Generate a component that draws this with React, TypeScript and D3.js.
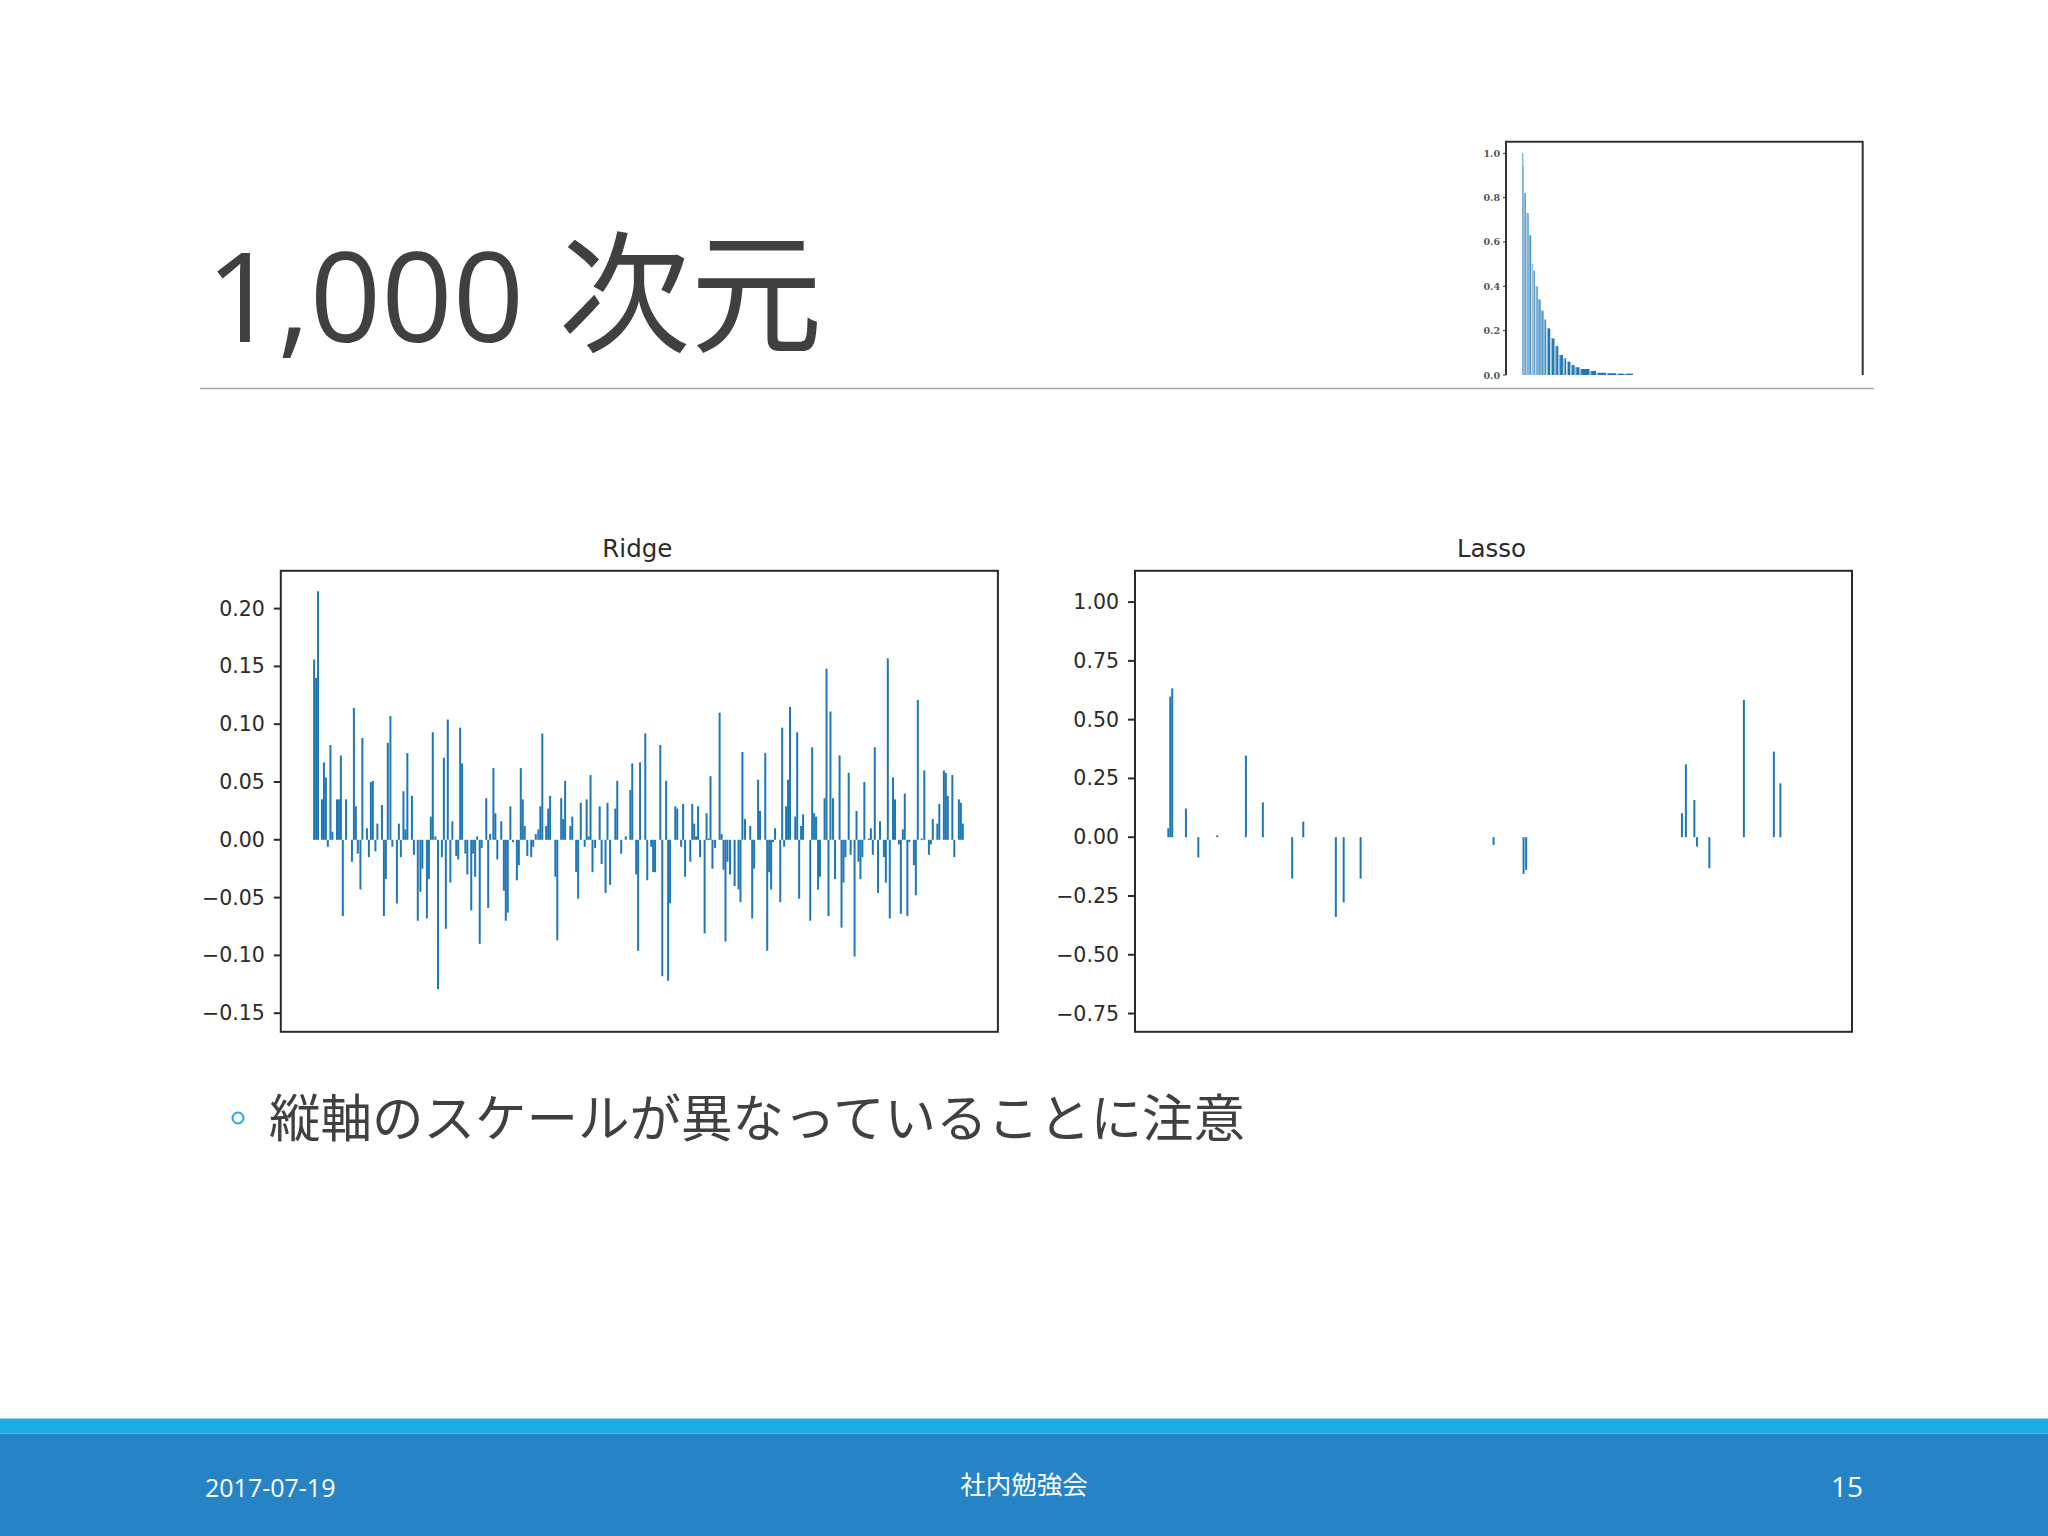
import React from "react";
import * as d3 from "d3";

// ---------- data ----------
// Ridge coefficients (feature index, value) as visible in the picture
const ridgeIndex = [
  0, 3, 6, 12, 15, 18, 21, 25, 28, 35, 38, 41, 44, 49, 58, 61, 64, 67, 71, 74, 81, 84, 87, 90, 94, 97, 104, 107, 110, 113, 117, 120, 127, 130, 133, 137, 140, 143, 150, 153,
  159, 163, 166, 173, 176, 179, 182, 186, 190, 196, 199, 202, 205, 209, 212, 218, 221, 224, 227, 232, 235, 241, 244, 247, 250, 254, 257, 264, 267, 270, 275, 278, 281, 287, 291, 294, 297, 301, 305, 311, 314, 317, 320, 323, 327,
  333, 336, 340, 344, 347, 350, 356, 359, 362, 370, 373, 379, 382, 385, 393, 396, 402, 405, 409, 415, 418, 421, 424, 427, 431, 438, 441, 447, 450, 454, 462, 465, 471, 478, 485, 488, 494, 497, 500,
  508, 511, 517, 520, 523, 531, 534, 540, 543, 546, 554, 557, 563, 566, 569, 577, 580, 583, 586, 589, 592, 599, 602, 605, 608, 611, 615, 622, 625, 628, 631, 634, 638, 645, 651, 654, 657, 661, 669, 672,
  675, 681, 684, 692, 695, 698, 701, 704, 707, 715, 718, 721, 724, 727, 730, 738, 741, 744, 747, 750, 761, 764, 767, 770, 773, 776, 783, 786, 789, 792, 796, 799, 806, 809, 812, 815, 820, 823, 829, 832, 835, 838, 841, 844,
  851, 854, 857, 860, 865, 868, 874, 877, 880, 883, 888, 891, 897, 900, 903, 906, 910, 913, 920, 923, 926, 932, 936, 943, 946, 949, 956, 959, 966, 969, 972, 979, 982, 989, 992, 995,
];
const ridgeCoef = [
  0.156, 0.14, 0.215, 0.035, 0.067, 0.054, -0.006, 0.082, 0.007, 0.035, 0.035, 0.073, -0.066, 0.035, -0.019, 0.114, 0.029, -0.012, -0.043, 0.088, 0.01, -0.015, 0.05, 0.051, -0.01, 0.014, 0.03, -0.066, -0.034, 0.084, 0.107, -0.006, -0.055, 0.014, -0.015, 0.042, 0.009, 0.075, 0.038, -0.013,
  -0.07, -0.045, -0.025, -0.068, -0.034, 0.02, 0.093, 0.003, -0.129, -0.015, 0.071, -0.077, 0.104, -0.037, 0.016, -0.014, -0.017, 0.097, 0.066, -0.012, -0.03, -0.061, -0.012, -0.032, 0.003, -0.09, -0.007, 0.036, -0.059, 0.005, 0.062, 0.023, -0.017, 0.016, -0.044, -0.07, -0.063, 0.029, -0.002, -0.035, -0.022, 0.062, 0.035, 0.012, -0.014,
  -0.015, -0.006, 0.005, 0.009, 0.029, 0.092, 0.012, 0.027, 0.038, -0.032, -0.087, 0.036, 0.018, 0.051, 0.012, 0.02, -0.028, -0.051, 0.032, -0.006, 0.035, 0.003, 0.056, -0.028, -0.007, 0.029, -0.021, -0.046, 0.032, -0.039, 0.027, 0.051, -0.012, 0.003, 0.043, 0.066, -0.03, -0.096, 0.067,
  0.092, -0.035, -0.006, -0.028, -0.028, 0.082, -0.118, 0.051, -0.122, -0.055, 0.029, 0.027, -0.006, 0.031, -0.032, -0.019, 0.031, 0.014, 0.003, 0.029, -0.015, -0.081, 0.023, 0.001, 0.055, -0.025, -0.007, 0.11, 0.005, -0.026, -0.088, -0.019, -0.03, -0.04, -0.043, -0.054, 0.076, 0.018, 0.012, -0.068,
  -0.025, 0.052, 0.025, 0.075, -0.096, -0.028, -0.043, -0.002, 0.01, -0.054, 0.097, -0.006, 0.029, 0.052, 0.115, 0.02, 0.093, -0.051, 0.012, 0.022, -0.07, 0.08, 0.023, 0.02, -0.043, -0.032, 0.036, 0.148, -0.066, 0.111, 0.036, -0.034, 0.073, -0.076, -0.037, -0.015, 0.058, -0.013, -0.101, 0.025, -0.019, -0.034, -0.015, 0.05,
  0.001, 0.01, -0.013, 0.08, -0.046, 0.016, -0.015, -0.037, 0.157, -0.068, 0.054, 0.035, -0.004, -0.064, 0.009, 0.04, -0.066, -0.002, -0.022, -0.048, 0.121, 0.001, 0.06, -0.013, -0.004, 0.018, 0.014, 0.031, 0.06, 0.058, 0.038, 0.056, -0.015, 0.035, 0.032, 0.014,
];

// Lasso non-zero coefficients
const lassoIndex = [0, 3, 6, 27, 46, 75, 119, 145, 190, 207, 257, 269, 295, 499, 545, 549, 788, 794, 807, 811, 830, 883, 929, 939];
const lassoCoef = [0.038, 0.598, 0.633, 0.122, -0.086, 0.008, 0.347, 0.148, -0.176, 0.066, -0.339, -0.277, -0.176, -0.033, -0.156, -0.139, 0.102, 0.31, 0.158, -0.04, -0.132, 0.584, 0.364, 0.229];

// Thumbnail (true weights, decaying)
const thumbIndex = [0, 2, 7, 14, 22, 30, 35, 42, 50, 59, 68, 76, 89, 102, 114, 128, 138, 151, 164, 179, 210, 230, 261, 292, 318];
const thumbValue = [1.0, 0.94, 0.82, 0.73, 0.63, 0.5, 0.47, 0.4, 0.34, 0.29, 0.25, 0.21, 0.165, 0.13, 0.09, 0.075, 0.06, 0.045, 0.035, 0.027, 0.018, 0.01, 0.008, 0.006, 0.006];

const ridgeTicks = [-0.15, -0.1, -0.05, 0, 0.05, 0.1, 0.15, 0.2];
const lassoTicks = [-0.75, -0.5, -0.25, 0, 0.25, 0.5, 0.75, 1.0];
const thumbTicks = [0, 0.2, 0.4, 0.6, 0.8, 1.0];

const titleNumber = "1,000";
const titleWord = "次元";
const bulletText = "縦軸のスケールが異なっていることに注意";
const footerDate = "2017-07-19";
const footerCenter = "社内勉強会";
const pageNumber = "15";

const BAR = "#1f77b4";
const INK = "#2a2a2a";

type PanelProps = {
  title: string;
  left: number;
  right: number;
  top: number;
  bottom: number;
  domain: [number, number];
  ticks: number[];
  index: number[];
  coef: number[];
};

function Panel({ title, left, right, top, bottom, domain, ticks, index, coef }: PanelProps) {
  const x = d3.scaleLinear().domain([-50, 1050]).range([left, right]);
  const y = d3.scaleLinear().domain(domain).range([bottom, top]);
  const bw = Math.max(x(0.8) - x(0), 2);
  const fmt = d3.format(".2f");
  return (
    <g>
      {index.map((d, i) => {
        const y0 = y(0);
        const y1 = y(coef[i]);
        return (
          <rect
            key={i}
            x={x(d - 0.4)}
            width={bw}
            y={Math.min(y0, y1)}
            height={Math.max(Math.abs(y1 - y0), 1.5)}
            fill={BAR}
          />
        );
      })}
      <rect x={left} y={top} width={right - left} height={bottom - top} fill="none" stroke={INK} strokeWidth={2} />
      {ticks.map((t) => (
        <g key={t}>
          <line x1={left - 7} x2={left} y1={y(t)} y2={y(t)} stroke={INK} strokeWidth={2} />
          <text
            x={left - 16}
            y={y(t)}
            textAnchor="end"
            dominantBaseline="central"
            fontFamily="DejaVu Sans"
            fontSize={20.5}
            fill={INK}
          >
            {fmt(t)}
          </text>
        </g>
      ))}
      <text x={(left + right) / 2 - 2} y={557} textAnchor="middle" fontFamily="DejaVu Sans" fontSize={24.5} fill={INK}>
        {title}
      </text>
    </g>
  );
}

function Thumb() {
  const left = 1506, right = 1862.7, top = 141.7, base = 375;
  const x = d3.scaleLinear().domain([-50, 1050]).range([left, right]);
  const y = d3.scaleLinear().domain([0, 1]).range([base, 153.3]);
  const fmt = d3.format(".1f");
  return (
    <g>
      {thumbIndex.map((d, i) => {
        const next = i < thumbIndex.length - 1 ? thumbIndex[i + 1] : d + 26;
        const w = Math.max(x(next) - x(d) - 0.8, 1);
        return (
          <g key={i}>
            <rect x={x(d)} y={y(thumbValue[i])} width={w} height={base - y(thumbValue[i])} fill={BAR} />
            <rect x={x(d)} y={y(thumbValue[i])} width={Math.min(1, w)} height={base - y(thumbValue[i])} fill="#9cc4e2" />
          </g>
        );
      })}
      <path d={`M${left},${base} V${top} H${right} V${base}`} fill="none" stroke="#333" strokeWidth={2} />
      {thumbTicks.map((t) => (
        <g key={t}>
          <line x1={left - 3} x2={left} y1={y(t)} y2={y(t)} stroke="#333" strokeWidth={1} />
          <text
            x={left - 6}
            y={y(t)}
            textAnchor="end"
            dominantBaseline="central"
            fontFamily="DejaVu Serif"
            fontSize={9.5}
            fontWeight="bold"
            fill="#555"
          >
            {fmt(t)}
          </text>
        </g>
      ))}
    </g>
  );
}

export default function App() {
  return (
    <svg
      width={2048}
      height={1536}
      viewBox="0 0 2048 1536"
      style={{ position: "absolute", left: 0, top: 0, background: "#ffffff" }}
    >
      <rect x={0} y={0} width={2048} height={1536} fill="#ffffff" />
      {/* title */}
      <text x={206} y={342} fontFamily="'Open Sans', 'Noto Sans CJK JP'" fill="#404040">
        <tspan fontSize={125}>{titleNumber}</tspan>
        <tspan fontSize={132}>{" " + titleWord}</tspan>
      </text>
      <line x1={200} x2={1874} y1={388.5} y2={388.5} stroke="#a6a6a6" strokeWidth={1.5} />
      <Thumb />
      <Panel
        title="Ridge"
        left={280.8}
        right={997.9}
        top={570.8}
        bottom={1031.8}
        domain={[-0.1661, 0.2327]}
        ticks={ridgeTicks}
        index={ridgeIndex}
        coef={ridgeCoef}
      />
      <Panel
        title="Lasso"
        left={1135}
        right={1852}
        top={570.8}
        bottom={1031.8}
        domain={[-0.8277, 1.1331]}
        ticks={lassoTicks}
        index={lassoIndex}
        coef={lassoCoef}
      />
      {/* bullet */}
      <circle cx={238} cy={1118} r={5.5} fill="none" stroke="#1CADE4" strokeWidth={2} />
      <text x={269} y={1137} fontFamily="'Noto Sans CJK JP'" fontSize={51.5} fill="#404040">
        {bulletText}
      </text>
      {/* footer */}
      <rect x={0} y={1418.5} width={2048} height={15} fill="#1CADE4" />
      <rect x={0} y={1433.5} width={2048} height={103} fill="#2683C6" />
      <text x={205} y={1497} fontFamily="'Open Sans', 'Noto Sans CJK JP'" fontSize={25} fill="#ffffff">
        {footerDate}
      </text>
      <text x={1024} y={1494} textAnchor="middle" fontFamily="'Noto Sans CJK JP'" fontSize={25.5} fill="#ffffff">
        {footerCenter}
      </text>
      <text x={1863} y={1497} textAnchor="end" fontFamily="'Open Sans', 'Noto Sans CJK JP'" fontSize={28} fill="#ffffff">
        {pageNumber}
      </text>
    </svg>
  );
}
